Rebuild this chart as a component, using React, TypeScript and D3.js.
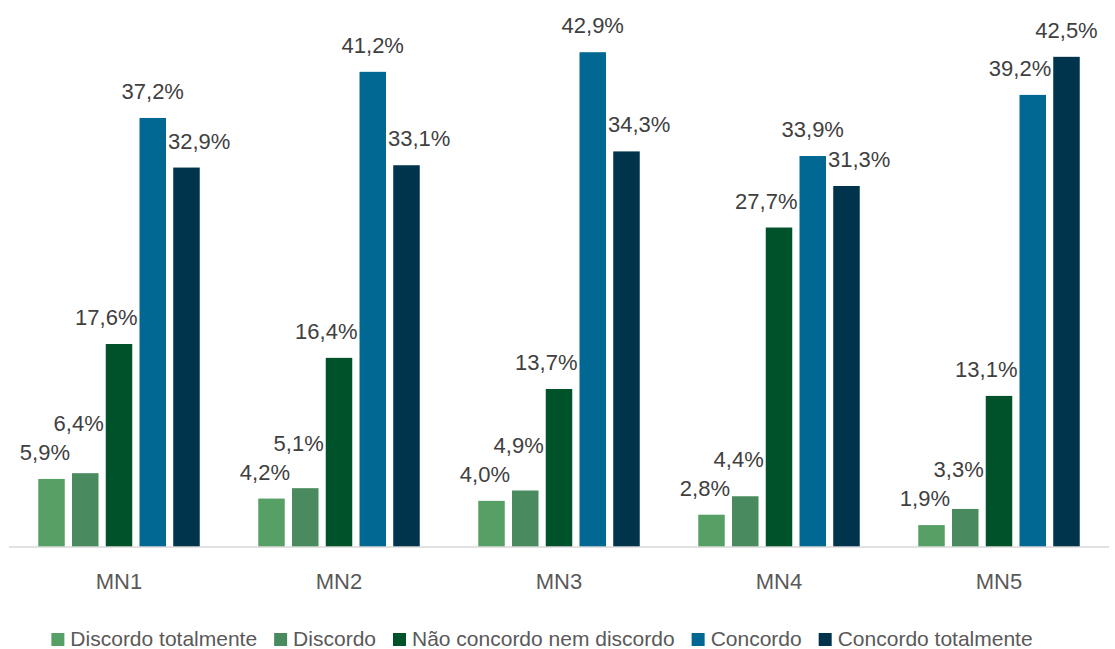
import * as d3 from "d3";

const categories = ["MN1", "MN2", "MN3", "MN4", "MN5"];
const seriesNames = [
  "Discordo totalmente",
  "Discordo",
  "Não concordo nem discordo",
  "Concordo",
  "Concordo totalmente",
];
// one array per series, values in %, in category order
const discordoTotalmente = [5.9, 4.2, 4.0, 2.8, 1.9];
const discordo = [6.4, 5.1, 4.9, 4.4, 3.3];
const neutro = [17.6, 16.4, 13.7, 27.7, 13.1];
const concordo = [37.2, 41.2, 42.9, 33.9, 39.2];
const concordoTotalmente = [32.9, 33.1, 34.3, 31.3, 42.5];
const colors = ["#57A065", "#4A8A5F", "#00522B", "#006892", "#00344C"];

const series = [discordoTotalmente, discordo, neutro, concordo, concordoTotalmente];

const width = 1115;
const height = 649;
const FONT = "'Liberation Sans', Arial, sans-serif";

const ctx = document.createElement("canvas").getContext("2d")!;
function textWidth(s: string, size: number) {
  ctx.font = `${size}px 'Liberation Sans'`;
  return ctx.measureText(s).width;
}

const fmt = (v: number) => v.toFixed(1).replace(".", ",") + "%";

type Label = { x: number; y: number; w: number; text: string };

export default function App() {
  const x0 = d3.scaleBand(categories, [9, 1109]).padding(0);
  const x1 = d3
    .scaleBand(d3.range(series.length).map(String), [0, x0.bandwidth()])
    .paddingInner(0.215)
    .paddingOuter(0.867);
  const y = d3.scaleLinear([0, 45], [547, 28]);
  const bw = x1.bandwidth();
  const labelSize = 22;

  // place value labels roughly like Excel does: push away from taller neighbours,
  // then lift when they collide with an already placed label
  const labels: Label[] = [];
  categories.forEach((c, ci) => {
    const placed: Label[] = [];
    const vals = series.map((s) => s[ci]);
    vals.forEach((v, i) => {
      const left = x0(c)! + x1(String(i))!;
      const text = fmt(v);
      const w = textWidth(text, labelSize);
      let cx = left + bw / 2;
      let base = y(v) - 19;
      if (i < vals.length - 1 && vals[i + 1] > v) {
        const nextLeft = x0(c)! + x1(String(i + 1))!;
        if (cx + w / 2 > nextLeft - 2) cx = nextLeft - 2 - w / 2;
      } else if (i > 0 && vals[i - 1] > v) {
        const prevRight = x0(c)! + x1(String(i - 1))! + bw;
        if (cx - w / 2 < prevRight + 2) cx = prevRight + 2 + w / 2;
      }
      let moved = true;
      while (moved) {
        moved = false;
        for (const p of placed) {
          const hOverlap = Math.abs(p.x - cx) < (p.w + w) / 2;
          const vOverlap = Math.abs(p.y - base) < 25;
          if (hOverlap && vOverlap) {
            base = p.y - 29;
            moved = true;
          }
        }
      }
      const lab = { x: cx, y: base, w, text };
      placed.push(lab);
      labels.push(lab);
    });
  });

  // legend layout
  const legendSize = 21;
  const sw = 13;
  const items = seriesNames.map((n) => ({ n, w: textWidth(n, legendSize) }));
  const total = d3.sum(items, (d) => sw + 6 + d.w) + 17 * (items.length - 1);
  let lx = 542 - total / 2;
  const legend = items.map((d, i) => {
    const item = { ...d, x: lx, color: colors[i] };
    lx += sw + 6 + d.w + 17;
    return item;
  });

  return (
    <svg
      width={width}
      height={height}
      style={{ position: "absolute", left: 0, top: 0, background: "#fff" }}
      fontFamily={FONT}
    >
      {categories.map((c, ci) => (
        <g key={c} transform={`translate(${x0(c)},0)`}>
          {series.map((s, si) => (
            <rect
              key={si}
              x={x1(String(si))}
              y={y(s[ci])}
              width={bw}
              height={y(0) - y(s[ci])}
              fill={colors[si]}
            />
          ))}
        </g>
      ))}
      <line x1={9} x2={1109} y1={y(0)} y2={y(0)} stroke="#d9d9d9" strokeWidth={1.5} />
      {categories.map((c) => (
        <text
          key={c}
          x={x0(c)! + x0.bandwidth() / 2}
          y={589}
          textAnchor="middle"
          fontSize={22}
          fill="#595959"
        >
          {c}
        </text>
      ))}
      {labels.map((l, i) => (
        <text key={i} x={l.x} y={l.y} textAnchor="middle" fontSize={labelSize} fill="#404040">
          {l.text}
        </text>
      ))}
      {legend.map((d) => (
        <g key={d.n} transform={`translate(${d.x},0)`}>
          <rect x={0} y={633} width={sw} height={sw} fill={d.color} />
          <text x={sw + 6} y={646} fontSize={legendSize} fill="#595959">
            {d.n}
          </text>
        </g>
      ))}
    </svg>
  );
}
